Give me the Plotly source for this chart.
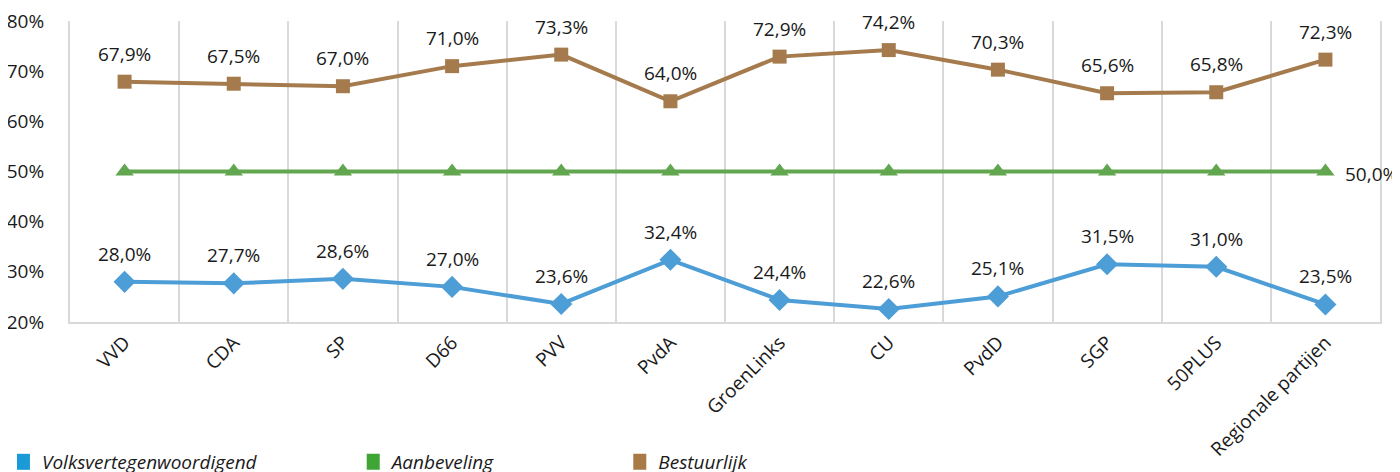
import plotly.graph_objects as go

categories = ["VVD", "CDA", "SP", "D66", "PVV", "PvdA", "GroenLinks", "CU",
              "PvdD", "SGP", "50PLUS", "Regionale partijen"]
volks = [28.0, 27.7, 28.6, 27.0, 23.6, 32.4, 24.4, 22.6, 25.1, 31.5, 31.0, 23.5]
aanbeveling = [50.0] * 12
bestuurlijk = [67.9, 67.5, 67.0, 71.0, 73.3, 64.0, 72.9, 74.2, 70.3, 65.6, 65.8, 72.3]
y_ticks = [20, 30, 40, 50, 60, 70, 80]
y_tick_labels = ["20%", "30%", "40%", "50%", "60%", "70%", "80%"]

c_blue, c_green, c_brown = "#4D9DD6", "#62A650", "#A57B4E"
c_blue_leg, c_green_leg, c_brown_leg = "#1A9BD7", "#3FA535", "#A87A45"
FONT = "Open Sans"
TXT = "#1a1a1a"

def fmt(v):
    return f"{v:.1f}".replace(".", ",") + "%"

fig = go.Figure()
fig.add_trace(go.Scatter(x=categories, y=volks, mode="lines+markers",
                         line=dict(color=c_blue, width=4),
                         marker=dict(symbol="diamond", size=17, color=c_blue),
                         showlegend=False, cliponaxis=False))
fig.add_trace(go.Scatter(x=categories, y=aanbeveling, mode="lines+markers",
                         line=dict(color=c_green, width=4),
                         marker=dict(symbol="triangle-up", size=16, color=c_green),
                         showlegend=False, cliponaxis=False))
fig.add_trace(go.Scatter(x=categories, y=bestuurlijk, mode="lines+markers",
                         line=dict(color=c_brown, width=4),
                         marker=dict(symbol="square", size=14, color=c_brown),
                         showlegend=False, cliponaxis=False))

# legend-only traces
for name, col, lg in [("Volksvertegenwoordigend", c_blue_leg, "legend"),
                      ("Aanbeveling", c_green_leg, "legend2"),
                      ("Bestuurlijk", c_brown_leg, "legend3")]:
    fig.add_trace(go.Scatter(x=[None], y=[None], mode="markers", name=name,
                             marker=dict(symbol="square", size=20, color=col),
                             legend=lg, showlegend=True))

annotations = []
for cat, v in zip(categories, volks):
    annotations.append(dict(x=cat, y=v, text=fmt(v), showarrow=False, yshift=28,
                            font=dict(family=FONT, size=19, color=TXT)))
for cat, v in zip(categories, bestuurlijk):
    annotations.append(dict(x=cat, y=v, text=fmt(v), showarrow=False, yshift=28,
                            font=dict(family=FONT, size=19, color=TXT)))
annotations.append(dict(x=categories[-1], y=aanbeveling[-1], text=fmt(aanbeveling[-1]),
                        showarrow=False, xanchor="left", xshift=18, yshift=-2,
                        font=dict(family=FONT, size=19, color=TXT)))

legend_common = dict(orientation="h", yanchor="middle", y=-0.465, xanchor="left",
                     font=dict(family=FONT, size=19, color=TXT, style="italic"),
                     bgcolor="rgba(0,0,0,0)", indentation=-15)

fig.update_layout(
    width=1400, height=472,
    margin=dict(l=62, r=28, t=13, b=158, autoexpand=False),
    plot_bgcolor="white", paper_bgcolor="white",
    font=dict(family=FONT, size=19, color=TXT),
    annotations=annotations,
    legend=dict(x=-0.0405, **legend_common),
    legend2=dict(x=0.2265, **legend_common),
    legend3=dict(x=0.430, **legend_common),
    xaxis=dict(type="category", range=[-0.5, 11.5], tickangle=-45, automargin=False,
               tickson="boundaries", showgrid=True, gridcolor="#D9D9D9", gridwidth=2,
               showline=True, linecolor="#D9D9D9", linewidth=2, ticks="",
               tickfont=dict(family=FONT, size=19, color=TXT)),
    yaxis=dict(range=[20, 80], tickvals=y_ticks, ticktext=y_tick_labels, showgrid=False,
               zeroline=False, showline=True, linecolor="#D9D9D9", linewidth=2,
               mirror=True, ticks="", ticklabelstandoff=20, automargin=False,
               ticklabeloverflow="allow",
               tickfont=dict(family=FONT, size=19, color=TXT)),
)

fig.write_html("out.html")
